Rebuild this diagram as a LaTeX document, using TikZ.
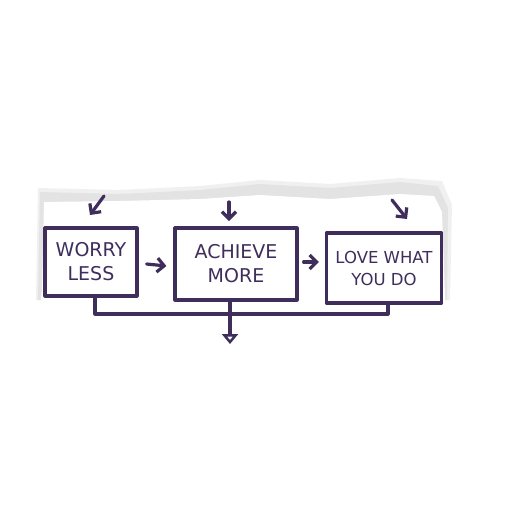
\documentclass[tikz,border=0pt]{standalone}
\usepackage{fontspec}
\setmainfont{DejaVu Sans}
\usetikzlibrary{arrows.meta,calc}
\definecolor{ink}{HTML}{3F2D5C}
\definecolor{shadeA}{HTML}{F0F0F0}
\definecolor{shadeB}{HTML}{E3E3E3}
\tikzset{
  ink/.style={draw=ink, line width=3.2pt, line cap=round, line join=round},
  box/.style={ink, fill=white, inner sep=0pt, minimum height=68pt, align=center,
              font=\fontsize{19}{24}\selectfont, text=ink},
  arr/.style={ink, -{Straight Barb[length=7pt,width=14pt]}},
  dn/.style={ink, -{Triangle[length=10pt,width=16pt,open]}}
}
\begin{document}
\begin{tikzpicture}[x=1pt,y=-1pt]
\useasboundingbox (0,0) rectangle (512,512);
\fill[white] (0,0) rectangle (512,512);
% paper shadow and paper
\fill[shadeA] (38,188) -- (120,190) -- (200,186) -- (260,180) -- (330,184) -- (400,178) -- (442,181) -- (452,205) -- (450,300) -- (36,300) -- cycle;
\fill[shadeB] (40,192) -- (120,194) -- (200,190) -- (260,184) -- (330,188) -- (400,182) -- (438,186) -- (448,208) -- (447,300) -- (38,300) -- cycle;
\fill[white] (44,202) -- (120,201) -- (200,199) -- (260,195) -- (330,199) -- (400,194) -- (434,196) -- (442,212) -- (446,322) -- (38,322) -- (42,290) -- cycle;
% boxes
\node[box, minimum width=92pt] (w) at (91,262) {WORRY\\LESS};
\node[box, minimum width=122pt, minimum height=72pt] (a) at (236,264) {ACHIEVE\\MORE};
\node[box, minimum width=115pt, minimum height=70pt, font=\fontsize{16.5}{22}\selectfont] (l) at (384,268) {LOVE WHAT\\YOU DO};
% incoming arrows
\coordinate (w0) at (104,196);
\coordinate (a0) at (229,202);
\coordinate (l0) at (392,200);
\draw[arr] (w0) -- (90,215);
\draw[arr] (a0) -- (229,221);
\draw[arr] (l0) -- (407,219);
% between boxes
\draw[arr] ($(w.east)+(8,2)$) -- ($(a.west)+(-7,2)$);
\draw[arr] ($(a.east)+(5,-2)$) -- ($(l.west)+(-6,-6)$);
% bottom connector
\coordinate (c1) at (95,0);
\coordinate (c3) at (388,0);
\coordinate (j) at (230,314);
\coordinate (o) at (230,344);
\draw[ink] (c1 |- w.south) -- (95,314) -- (388,314) -- (c3 |- l.south);
\draw[dn] (j |- a.south) -- (o);
\end{tikzpicture}
\end{document}
